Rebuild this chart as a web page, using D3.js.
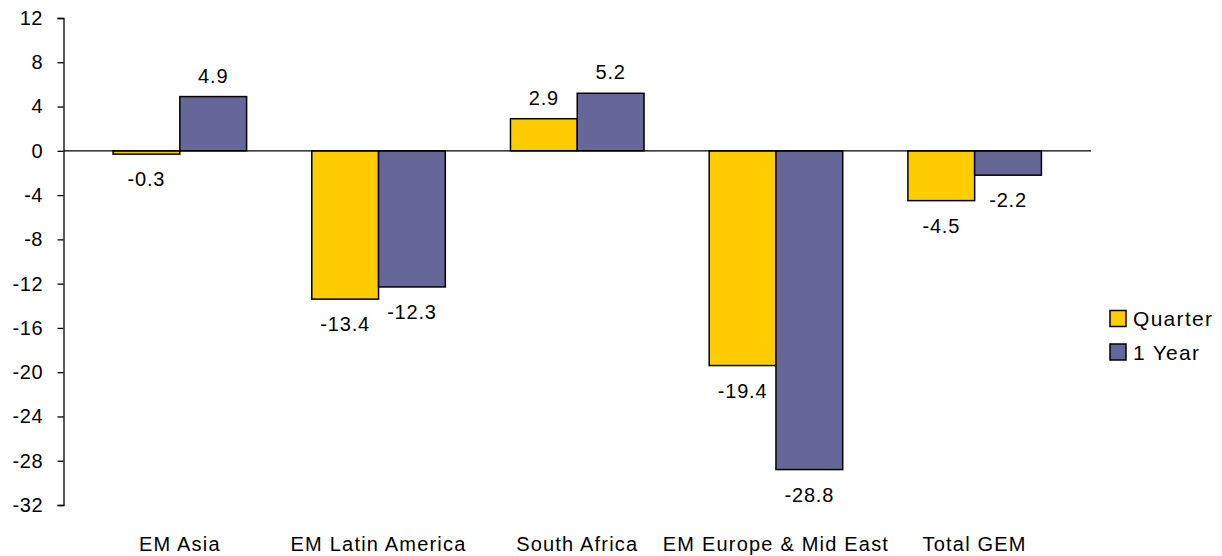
<!DOCTYPE html>
<html>
<head>
<meta charset="utf-8">
<script src="https://cdn.jsdelivr.net/npm/d3@7"></script>
<style>
    body { margin: 0; background: #fff; }
    svg { font-family: Arial, "Liberation Sans", sans-serif; }
    text { fill: #000; }
</style>
</head>
<body>
<svg id="chart" width="1222" height="556"></svg>
<script>
    const categories = ["EM Asia", "EM Latin America", "South Africa", "EM Europe & Mid East", "Total GEM"];
    const seriesNames = ["Quarter", "1 Year"];
    const quarterValues = [-0.3, -13.4, 2.9, -19.4, -4.5];
    const yearValues = [4.9, -12.3, 5.2, -28.8, -2.2];
    const yTicks = [12, 8, 4, 0, -4, -8, -12, -16, -20, -24, -28, -32];
    const seriesColors = ["#FFCC00", "#666699"];

    const seriesValues = [quarterValues, yearValues];
    const rows = categories.map((c, i) => ({
        category: c,
        values: seriesNames.map((s, j) => ({ series: s, value: seriesValues[j][i] }))
    }));

    const svg = d3.select("#chart");
    const axisX = 63.5;
    const plotRight = 1091;

    let y = d3.scaleLinear().domain([-32, 12]).range([505, 18]);

    let x0 = d3.scaleBand()
        .domain(categories)
        .range([axisX + 17, plotRight - 17])
        .paddingInner(0.328)
        .paddingOuter(0.164);

    let x1 = d3.scaleBand()
        .domain(seriesNames)
        .range([0, x0.bandwidth()]);

    let color = d3.scaleOrdinal().domain(seriesNames).range(seriesColors);

    // bars
    let groups = svg.append("g").selectAll("g")
        .data(rows)
        .join("g")
        .attr("transform", d => `translate(${x0(d.category)},0)`);

    groups.selectAll("rect")
        .data(d => d.values)
        .join("rect")
        .attr("x", d => x1(d.series))
        .attr("y", d => y(Math.max(0, d.value)))
        .attr("width", x1.bandwidth())
        .attr("height", d => Math.abs(y(d.value) - y(0)))
        .attr("fill", d => color(d.series))
        .attr("stroke", "#000")
        .attr("stroke-width", 1.5);

    groups.selectAll("text")
        .data(d => d.values)
        .join("text")
        .attr("x", d => x1(d.series) + x1.bandwidth() / 2)
        .attr("y", d => d.value >= 0 ? y(d.value) - 14 : y(d.value) + 32)
        .attr("text-anchor", "middle")
        .attr("font-size", 20)
        .attr("letter-spacing", 0.8)
        .text(d => d.value.toFixed(1));

    // zero line
    svg.append("line")
        .attr("x1", axisX).attr("x2", plotRight)
        .attr("y1", y(0)).attr("y2", y(0))
        .attr("stroke", "#000").attr("stroke-width", 1.3);

    // y axis
    let yAxis = d3.axisLeft(y).tickValues(yTicks).tickSize(6).tickPadding(15).tickFormat(d => String(d));
    let yg = svg.append("g")
        .attr("transform", `translate(${axisX},0)`)
        .call(yAxis);
    yg.select(".domain").attr("stroke", "#000").attr("stroke-width", 1.3);
    yg.selectAll(".tick line").attr("stroke", "#000").attr("stroke-width", 1.3);
    yg.selectAll(".tick text")
        .attr("font-size", 20)
        .attr("font-family", "Arial, 'Liberation Sans', sans-serif")
        .attr("letter-spacing", 0.5)
        .attr("dx", 0.5)
        .attr("fill", "#000");

    // category labels
    svg.append("g").selectAll("text")
        .data(categories)
        .join("text")
        .attr("x", d => x0(d) + x0.bandwidth() / 2)
        .attr("y", 551)
        .attr("text-anchor", "middle")
        .attr("font-size", 20)
        .attr("letter-spacing", 1.2)
        .text(d => d);

    // legend
    let legend = svg.append("g").selectAll("g")
        .data(seriesNames)
        .join("g")
        .attr("transform", (d, i) => `translate(1110,${310.5 + i * 33.5})`);

    legend.append("rect")
        .attr("width", 16).attr("height", 16)
        .attr("fill", d => color(d))
        .attr("stroke", "#000").attr("stroke-width", 1.5);

    legend.append("text")
        .attr("x", 23).attr("y", 15.5)
        .attr("font-size", 21)
        .attr("letter-spacing", 1.3)
        .text(d => d);
</script>
</body>
</html>
